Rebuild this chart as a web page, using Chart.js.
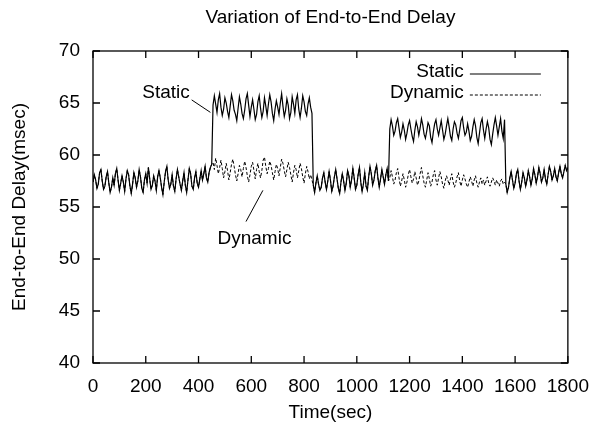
<!DOCTYPE html>
<html>
<head>
<meta charset="utf-8">
<title>Variation of End-to-End Delay</title>
<script src="https://cdn.jsdelivr.net/npm/chart.js@4.4.0/dist/chart.umd.min.js"></script>
<style>
  html, body { margin: 0; padding: 0; background: #fff; }
</style>
</head>
<body>
<canvas id="delayChart" width="601" height="432"></canvas>
<script>
// Sample times (sec), one reading every 5 s
const times = [];
for (let t = 0; t <= 1800; t += 5) times.push(t);

// End-to-end delay (msec).
// Outside the two bursts both schemes give the same curve.
const baselineA = [ // 0 - 450 s
  57.4, 58.1, 57.6, 56.8, 57.2, 58.3, 58.6, 57.5, 56.7, 57.0,
  57.9, 58.4, 57.3, 56.4, 56.9, 57.8, 57.1, 58.2, 58.7, 57.6,
  56.6, 57.3, 58.0, 57.4, 56.5, 57.7, 58.5, 58.1, 57.0, 56.3,
  57.2, 58.3, 57.8, 56.9, 57.5, 58.6, 57.9, 56.8, 56.4, 57.6,
  58.2, 57.3, 58.8, 57.7, 56.7, 57.1, 58.0, 57.5, 56.6, 57.9,
  58.5, 57.8, 56.9, 56.2, 57.4, 58.4, 58.9, 57.6, 56.8, 57.2,
  58.1, 57.0, 56.5, 57.7, 58.6, 57.9, 57.2, 56.6, 57.5, 58.3,
  57.1, 56.4, 57.6, 58.7, 58.2, 57.0, 56.7, 57.8, 58.4, 57.3,
  56.9, 57.7, 58.5, 57.6, 58.2, 58.9, 57.8, 57.4, 58.3, 58.8,
  59.1
];
const baselineB = [ // 835 - 1120 s
  57.1, 56.4, 57.3, 58.0, 57.2, 56.6, 56.9, 57.8, 58.3, 57.4,
  56.7, 57.5, 58.4, 57.6, 56.5, 57.0, 57.9, 58.6, 57.7, 56.8,
  56.3, 57.4, 58.2, 57.5, 56.6, 57.3, 58.5, 58.0, 56.9, 57.6,
  58.7, 57.8, 56.7, 57.1, 58.1, 58.8, 57.4, 56.5, 57.2, 58.3,
  57.0, 56.6, 57.9, 58.9, 58.2, 57.1, 57.6, 58.5, 59.0, 57.8,
  56.9, 57.7, 58.6, 57.9, 57.2, 58.1, 58.7, 57.5
];
const baselineC = [ // 1565 - 1800 s
  57.2, 56.4, 56.9, 57.8, 58.4, 57.6, 56.8, 57.3, 58.2, 58.6,
  57.5, 56.7, 57.4, 58.3, 57.8, 57.0, 57.6, 58.5, 57.9, 57.1,
  57.7, 58.7, 58.1, 57.3, 57.9, 58.8, 58.2, 57.4, 57.8, 58.6,
  57.7, 57.2, 58.1, 58.9, 58.4, 57.6, 58.0, 58.7, 57.9, 57.5,
  58.3, 58.9, 58.2, 57.8, 58.4, 59.0, 58.5, 58.8
];

const staticBurst1 = [ // 455 - 830 s
  64.8, 65.7, 64.9, 64.1, 65.3, 65.9, 64.6, 63.8, 64.4, 65.5,
  65.0, 64.2, 63.6, 64.7, 65.8, 65.2, 64.3, 63.9, 63.3, 64.5,
  65.6, 64.9, 64.0, 63.5, 64.3, 65.4, 65.9, 64.8, 63.7, 64.6,
  65.3, 64.4, 63.4, 63.9, 65.1, 65.7, 64.5, 63.6, 64.2, 65.5,
  64.7, 63.8, 64.9, 65.8, 65.1, 64.0, 63.3, 64.4, 65.2, 64.6,
  63.9, 65.0, 65.9, 64.7, 63.7, 64.3, 65.4, 64.8, 63.5, 64.1,
  65.6, 64.9, 64.0, 65.3, 65.8, 64.4, 63.6, 64.5, 65.7, 65.1,
  64.2, 63.8, 64.9, 65.5, 64.6, 64.0
];
const staticBurst2 = [ // 1125 - 1560 s
  62.5, 63.4, 62.8, 61.9, 62.3, 63.1, 63.5, 62.6, 61.7, 62.2,
  63.0, 62.4, 61.5, 62.1, 62.9, 63.3, 62.5, 61.8, 61.3, 62.4,
  63.2, 62.7, 61.9, 62.6, 63.5, 62.9, 62.0, 61.6, 62.3, 63.1,
  62.8, 61.7, 61.2, 62.2, 63.0, 63.4, 62.5, 61.9, 62.6, 63.3,
  62.4, 61.5, 62.0, 62.8, 63.5, 62.7, 61.8, 61.4, 62.5, 63.2,
  62.9, 62.1, 61.6, 62.4, 63.3, 63.6, 62.6, 61.9, 62.2, 63.0,
  62.3, 61.4, 61.8, 62.7, 63.4, 62.8, 61.7, 61.1, 62.1, 63.1,
  63.5, 62.4, 61.6, 62.5, 63.2, 62.6, 61.5, 61.0, 62.0, 62.9,
  63.6, 62.8, 61.9, 62.7, 63.5, 62.3, 61.6, 63.4
];

const dynamicBurst1 = [ // 455 - 830 s
  59.3, 58.6, 59.7, 59.0, 58.2, 58.8, 59.5, 58.7, 57.8, 58.4,
  59.2, 58.5, 57.6, 58.3, 59.1, 59.6, 58.9, 58.1, 57.5, 58.2,
  59.0, 58.6, 57.9, 58.7, 59.4, 58.8, 58.0, 57.4, 58.1, 58.9,
  59.3, 58.5, 57.7, 58.6, 59.2, 58.4, 57.8, 58.5, 59.5, 59.8,
  58.9, 58.2, 58.7, 59.4, 59.0, 58.3, 57.6, 58.4, 59.1, 58.7,
  58.0, 58.8, 59.6, 59.2, 58.5, 57.9, 58.6, 59.3, 58.8, 58.1,
  57.4, 58.3, 59.0, 58.6, 57.8, 58.5, 59.2, 58.7, 57.9, 57.3,
  58.2, 58.9, 58.4, 57.7, 58.1, 57.6
];
const dynamicBurst2 = [ // 1125 - 1560 s
  57.8, 58.5, 57.9, 57.2, 57.6, 58.3, 58.7, 57.8, 57.0, 57.5,
  58.2, 57.6, 56.9, 57.4, 58.1, 58.6, 57.9, 57.3, 57.7, 58.4,
  57.8, 57.1, 57.5, 58.2, 58.8, 58.0, 57.3, 56.9, 57.6, 58.3,
  57.7, 57.0, 57.4, 58.1, 58.5, 57.6, 57.1, 57.8, 58.4, 57.9,
  57.2, 56.8, 57.5, 58.0, 57.6, 57.1, 57.7, 58.2, 57.4, 56.9,
  57.3, 57.9, 58.3, 57.5, 57.0, 57.6, 58.1, 57.7, 57.2, 56.9,
  57.4, 57.9, 57.5, 57.0, 57.6, 58.0, 57.3, 56.9, 57.4, 57.8,
  57.2, 57.6, 57.1, 57.5, 57.9, 57.3, 57.0, 57.4, 57.8, 57.5,
  57.1, 57.6, 57.3, 57.0, 57.5, 57.7, 57.2, 57.4
];

const staticDelay = baselineA.concat(staticBurst1, baselineB, staticBurst2, baselineC);
const dynamicDelay = baselineA.concat(dynamicBurst1, baselineB, dynamicBurst2, baselineC);

const seriesNames = ['Static', 'Dynamic'];
const xTicks = [0, 200, 400, 600, 800, 1000, 1200, 1400, 1600, 1800];
const yTicks = [40, 45, 50, 55, 60, 65, 70];

// Callout labels on the plot: text position, then leader line from/to (data units)
const callouts = [
  { text: 'Static',  at: [277, 66.0], from: [374, 65.3], to: [445, 64.1] },
  { text: 'Dynamic', at: [612, 51.9], from: [580, 53.6], to: [644, 56.6] }
];

const FONT = '"Liberation Sans", Arial, Helvetica, sans-serif';

// Gnuplot-like frame, inward ticks, title, key and callouts
const gnuplotDecor = {
  id: 'gnuplotDecor',
  afterDatasetsDraw(chart) {
    const { ctx, chartArea: a, scales: { x, y } } = chart;
    ctx.save();
    ctx.strokeStyle = '#000';
    ctx.lineWidth = 1.3;
    ctx.strokeRect(a.left, a.top, a.right - a.left, a.bottom - a.top);

    const tl = 7;
    ctx.beginPath();
    xTicks.forEach(v => {
      const px = x.getPixelForValue(v);
      ctx.moveTo(px, a.bottom); ctx.lineTo(px, a.bottom - tl);
      ctx.moveTo(px, a.top); ctx.lineTo(px, a.top + tl);
    });
    yTicks.forEach(v => {
      const py = y.getPixelForValue(v);
      ctx.moveTo(a.left, py); ctx.lineTo(a.left + tl, py);
      ctx.moveTo(a.right, py); ctx.lineTo(a.right - tl, py);
    });
    ctx.stroke();

    ctx.fillStyle = '#000';
    ctx.font = '19px ' + FONT;
    ctx.textBaseline = 'middle';

    // title
    ctx.textAlign = 'center';
    ctx.fillText('Variation of End-to-End Delay', (a.left + a.right) / 2, 18);

    // key
    chart.data.datasets.forEach((ds, i) => {
      const ky = a.top + 21 + i * 21;
      ctx.textAlign = 'right';
      ctx.fillText(ds.label, a.right - 104, ky);
      ctx.beginPath();
      ctx.lineWidth = ds.borderWidth;
      ctx.setLineDash(ds.borderDash || []);
      ctx.moveTo(a.right - 98, ky + 2);
      ctx.lineTo(a.right - 27, ky + 2);
      ctx.stroke();
    });
    ctx.setLineDash([]);

    // callouts
    ctx.lineWidth = 1;
    callouts.forEach(c => {
      ctx.textAlign = 'center';
      ctx.fillText(c.text, x.getPixelForValue(c.at[0]), y.getPixelForValue(c.at[1]));
      ctx.beginPath();
      ctx.moveTo(x.getPixelForValue(c.from[0]), y.getPixelForValue(c.from[1]));
      ctx.lineTo(x.getPixelForValue(c.to[0]), y.getPixelForValue(c.to[1]));
      ctx.stroke();
    });
    ctx.restore();
  }
};

new Chart(document.getElementById('delayChart'), {
  type: 'line',
  data: {
    datasets: [
      {
        label: seriesNames[0],
        data: times.map((t, i) => ({ x: t, y: staticDelay[i] })),
        borderColor: '#000',
        borderWidth: 1.2,
        pointRadius: 0,
        tension: 0
      },
      {
        label: seriesNames[1],
        data: times.map((t, i) => ({ x: t, y: dynamicDelay[i] })),
        borderColor: '#000',
        borderWidth: 1,
        borderDash: [3, 2],
        pointRadius: 0,
        tension: 0
      }
    ]
  },
  options: {
    responsive: false,
    animation: false,
    layout: { padding: { top: 51, right: 26, left: 0, bottom: 0 } },
    plugins: {
      legend: { display: false },
      title: { display: false },
      tooltip: { enabled: false }
    },
    scales: {
      x: {
        type: 'linear',
        min: 0,
        max: 1800,
        afterFit: s => { s.height = 69; },
        afterBuildTicks: s => { s.ticks = xTicks.map(v => ({ value: v })); },
        grid: { display: false, drawTicks: false },
        border: { display: false },
        ticks: { color: '#000', padding: 12, maxRotation: 0, callback: v => String(v), font: { family: FONT, size: 19 } },
        title: { display: true, text: 'Time(sec)', color: '#000', padding: { top: 0, bottom: 8 }, font: { family: FONT, size: 19 } }
      },
      y: {
        min: 40,
        max: 70,
        afterFit: s => { s.width = 93; },
        afterBuildTicks: s => { s.ticks = yTicks.map(v => ({ value: v })); },
        grid: { display: false, drawTicks: false },
        border: { display: false },
        ticks: { color: '#000', padding: 13, callback: v => String(v), font: { family: FONT, size: 19 } },
        title: { display: true, text: 'End-to-End Delay(msec)', color: '#000', padding: { top: 8, bottom: 0 }, font: { family: FONT, size: 19 } }
      }
    }
  },
  plugins: [gnuplotDecor]
});
</script>
</body>
</html>
